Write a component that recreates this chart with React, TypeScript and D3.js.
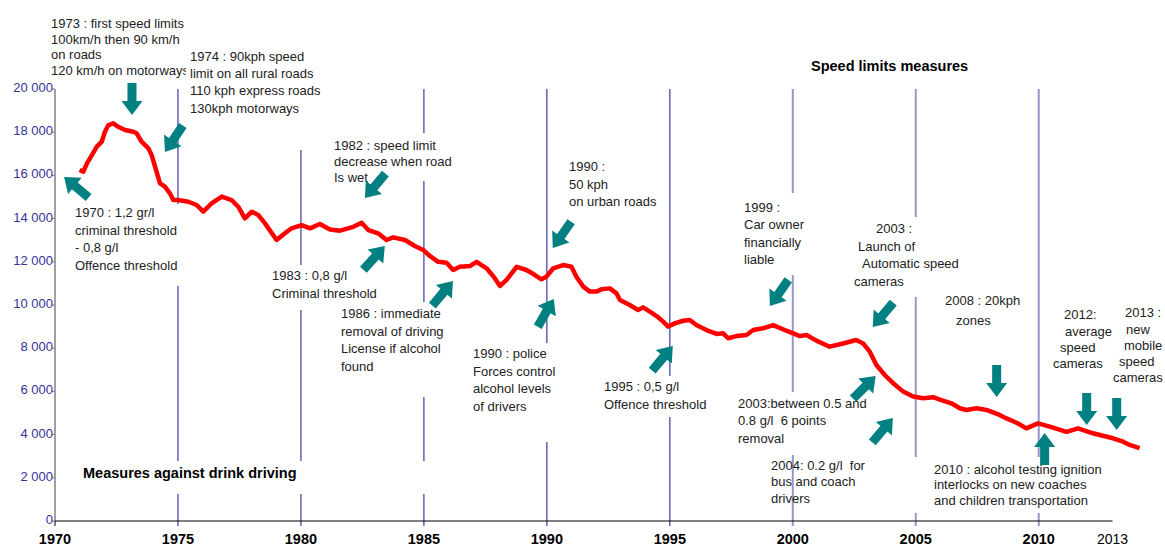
import React from 'react';
import * as d3 from 'd3';

// 12-month rolling road deaths
const years = [
  1971.0, 1971.15, 1971.3, 1971.5, 1971.7, 1971.9, 1972.03, 1972.17, 1972.37, 1972.57, 1972.85,
  1973.18, 1973.32, 1973.52, 1973.8, 1973.93, 1974.07, 1974.27, 1974.47, 1974.67, 1974.81,
  1975.0, 1975.42, 1975.76, 1976.03, 1976.37, 1976.78, 1977.18, 1977.45, 1977.72, 1978.0,
  1978.26, 1978.54, 1979.01, 1979.35, 1979.62, 1980.03, 1980.37, 1980.77, 1981.18, 1981.59,
  1982.13, 1982.47, 1982.74, 1983.14, 1983.48, 1983.75, 1984.23, 1984.63, 1984.97, 1985.24,
  1985.58, 1985.92, 1986.19, 1986.46, 1986.87, 1987.14, 1987.55, 1987.89, 1988.09, 1988.36,
  1988.77, 1989.17, 1989.5, 1989.78, 1989.98, 1990.26, 1990.66, 1991.0, 1991.2, 1991.48,
  1991.75, 1992.02, 1992.22, 1992.56, 1992.83, 1992.97, 1993.37, 1993.71, 1993.91, 1994.19,
  1994.46, 1994.73, 1994.93, 1995.2, 1995.54, 1995.81, 1996.08, 1996.49, 1996.9, 1997.17,
  1997.37, 1997.71, 1998.12, 1998.39, 1998.79, 1999.2, 1999.74, 2000.01, 2000.28, 2000.56,
  2000.96, 2001.5, 2002.04, 2002.58, 2002.86, 2003.13, 2003.4, 2003.74, 2004.08, 2004.49,
  2004.89, 2005.3, 2005.7, 2006.04, 2006.45, 2006.79, 2007.06, 2007.47, 2007.87, 2008.41,
  2008.69, 2009.1, 2009.5, 2009.97, 2010.45, 2011.13, 2011.6, 2012.2, 2013.02, 2013.43,
  2013.7, 2014.1,
];
const deaths = [
  16250, 16170, 16560, 16940, 17330, 17560, 18020, 18330, 18410, 18250, 18100,
  18020, 17950, 17560, 17250, 16940, 16400, 15630, 15480, 15170, 14860,
  14860, 14780, 14630, 14320, 14710, 15020, 14860, 14550, 14010, 14320,
  14170, 13780, 13010, 13320, 13550, 13700, 13550, 13750, 13500, 13440,
  13620, 13810, 13470, 13320, 13010, 13130, 13010, 12730, 12550, 12270,
  12000, 11960, 11620, 11770, 11800, 12000, 11700, 11230, 10880, 11160,
  11770, 11620, 11400, 11190, 11310, 11700, 11850, 11770, 11310, 10850,
  10620, 10620, 10730, 10770, 10540, 10230, 10000, 9770, 9890, 9690,
  9490, 9230, 9000, 9150, 9270, 9310, 9070, 8840, 8660, 8690,
  8460, 8560, 8610, 8840, 8920, 9070, 8810, 8690, 8560, 8610,
  8350, 8070, 8220, 8380, 8220, 7840, 7220, 6760, 6380, 5990,
  5760, 5680, 5730, 5600, 5450, 5220, 5140, 5220, 5140, 4910,
  4750, 4550, 4290, 4520, 4370, 4130, 4290, 4060, 3830, 3670,
  3520, 3370,
];

const yTicks = [0, 2000, 4000, 6000, 8000, 10000, 12000, 14000, 16000, 18000, 20000];
const xTicks = [1970, 1975, 1980, 1985, 1990, 1995, 2000, 2005, 2010];
const gridYears = [1975, 1980, 1985, 1990, 1995, 2000, 2005, 2010];

// arrow tips in data space, angle in degrees (0 = right, 90 = down)
const arrows = [
  { year: 1973.13, value: 18800, angle: 90 },
  { year: 1974.47, value: 17080, angle: 124 },
  { year: 1970.37, value: 15930, angle: 220 },
  { year: 1982.6, value: 14950, angle: 130 },
  { year: 1983.41, value: 12730, angle: -48 },
  { year: 1986.18, value: 11110, angle: -50 },
  { year: 1990.24, value: 12640, angle: 125 },
  { year: 1990.28, value: 10280, angle: -60 },
  { year: 1995.12, value: 8100, angle: -50 },
  { year: 1999.07, value: 9950, angle: 125 },
  { year: 2003.25, value: 8980, angle: 130 },
  { year: 2003.37, value: 6710, angle: -45 },
  { year: 2004.07, value: 4770, angle: -50 },
  { year: 2008.29, value: 5740, angle: 90 },
  { year: 2010.24, value: 4070, angle: -90 },
  { year: 2011.95, value: 4440, angle: 90 },
  { year: 2013.17, value: 4210, angle: 90 },
];

type Note = {
  lines: { t: string; x: number; y: number }[];
  box?: [number, number, number, number];
  bold?: boolean;
};

const notes: Note[] = [
  { lines: [
    { t: '1973 : first speed limits', x: 51, y: 28 },
    { t: '100km/h then 90 km/h', x: 51, y: 44 },
    { t: 'on roads', x: 51, y: 59 },
    { t: '120 km/h on motorways', x: 51, y: 75 },
  ] },
  { box: [186, 45, 140, 105], lines: [
    { t: '1974 : 90kph speed', x: 190, y: 61 },
    { t: 'limit on all rural roads', x: 190, y: 78 },
    { t: '110 kph express roads', x: 190, y: 95 },
    { t: '130kph motorways', x: 190, y: 113 },
  ] },
  { box: [72, 204, 112, 82], lines: [
    { t: '1970 : 1,2 gr/l', x: 75, y: 217 },
    { t: 'criminal threshold', x: 75, y: 235 },
    { t: '- 0,8 g/l', x: 75, y: 252 },
    { t: 'Offence threshold', x: 75, y: 270 },
  ] },
  { box: [331, 133, 125, 48], lines: [
    { t: '1982 : speed limit', x: 334, y: 150 },
    { t: 'decrease when road', x: 334, y: 166 },
    { t: 'Is wet', x: 334, y: 182 },
  ] },
  { box: [268, 265, 115, 45], lines: [
    { t: '1983 : 0,8 g/l', x: 272, y: 280 },
    { t: 'Criminal threshold', x: 272, y: 298 },
  ] },
  { box: [338, 302, 125, 95], lines: [
    { t: '1986 : immediate', x: 341, y: 318 },
    { t: 'removal of driving', x: 341, y: 336 },
    { t: 'License if alcohol', x: 341, y: 353 },
    { t: 'found', x: 341, y: 371 },
  ] },
  { lines: [
    { t: '1990 :', x: 569, y: 171 },
    { t: '50 kph', x: 569, y: 189 },
    { t: 'on urban roads', x: 569, y: 206 },
  ] },
  { box: [470, 343, 95, 99], lines: [
    { t: '1990 : police', x: 473, y: 358 },
    { t: 'Forces control', x: 473, y: 376 },
    { t: 'alcohol levels', x: 473, y: 393 },
    { t: 'of drivers', x: 473, y: 411 },
  ] },
  { box: [600, 376, 112, 41], lines: [
    { t: '1995 : 0,5 g/l', x: 604, y: 391 },
    { t: 'Offence threshold', x: 604, y: 409 },
  ] },
  { box: [740, 193, 70, 82], lines: [
    { t: '1999 :', x: 744, y: 212 },
    { t: 'Car owner', x: 744, y: 229 },
    { t: 'financially', x: 744, y: 247 },
    { t: 'liable', x: 744, y: 264 },
  ] },
  { box: [850, 217, 118, 80], lines: [
    { t: '2003 :', x: 876, y: 233 },
    { t: 'Launch of', x: 858, y: 251 },
    { t: 'Automatic speed', x: 862, y: 268 },
    { t: 'cameras', x: 854, y: 286 },
  ] },
  { box: [735, 392, 135, 63], lines: [
    { t: '2003:between 0.5 and', x: 738, y: 408 },
    { t: '0.8 g/l  6 points', x: 738, y: 425 },
    { t: 'removal', x: 738, y: 443 },
  ] },
  { lines: [
    { t: '2004: 0.2 g/l  for', x: 771, y: 470 },
    { t: 'bus and coach', x: 771, y: 486 },
    { t: 'drivers', x: 771, y: 503 },
  ] },
  { lines: [
    { t: '2008 : 20kph', x: 945, y: 305 },
    { t: 'zones', x: 956, y: 325 },
  ] },
  { box: [910, 457, 200, 56], lines: [
    { t: '2010 : alcohol testing ignition', x: 934, y: 474 },
    { t: 'interlocks on new coaches', x: 934, y: 489 },
    { t: 'and children transportation', x: 934, y: 505 },
  ] },
  { lines: [
    { t: '2012:', x: 1064, y: 319 },
    { t: 'average', x: 1065, y: 336 },
    { t: 'speed', x: 1060, y: 352 },
    { t: 'cameras', x: 1053, y: 368 },
  ] },
  { lines: [
    { t: '2013 :', x: 1125, y: 317 },
    { t: 'new', x: 1126, y: 334 },
    { t: 'mobile', x: 1124, y: 350 },
    { t: 'speed', x: 1119, y: 366 },
    { t: 'cameras', x: 1113, y: 382 },
  ] },
  { bold: true, lines: [{ t: 'Speed limits measures', x: 811, y: 71 }] },
  { bold: true, box: [78, 461, 352, 33], lines: [{ t: 'Measures against drink driving', x: 83, y: 478 }] },
];

const FONT = '"Liberation Sans", Arial, sans-serif';

const arrowPath = (len: number, hl: number, hw: number, sw: number) =>
  `M0,0 L${-hl},${-hw / 2} L${-hl},${-sw / 2} L${-len},${-sw / 2} L${-len},${sw / 2} L${-hl},${sw / 2} L${-hl},${hw / 2} Z`;

export default function App() {
  const width = 1165;
  const height = 547;
  const x = d3.scaleLinear().domain([1970, 2013]).range([55, 1112.5]);
  const y = d3.scaleLinear().domain([0, 20000]).range([521, 89]);

  const line = d3
    .line<number>()
    .x((_, i) => x(years[i]))
    .y((d) => y(d))
    .curve(d3.curveLinear);

  const yFmt = (v: number) => (v === 0 ? '0' : `${v / 1000} 000`);
  const arrowD = arrowPath(32, 14, 21, 9);

  return (
    <svg
      width={width}
      height={height}
      style={{ position: 'absolute', left: 0, top: 0, background: '#fff' }}
      fontFamily={FONT}
    >
      {/* vertical year lines */}
      {gridYears.map((g) => (
        <line
          key={g}
          x1={x(g)}
          x2={x(g)}
          y1={y(20000)}
          y2={526}
          stroke={g >= 2000 ? '#9696cc' : '#3a3aa8'}
          strokeWidth={g >= 2000 ? 2 : 1.2}
        />
      ))}

      {/* annotation text boxes */}
      {notes.map((n, i) => (
        <g key={i}>
          {n.box && <rect x={n.box[0]} y={n.box[1]} width={n.box[2]} height={n.box[3]} fill="#fff" />}
          {n.lines.map((l, j) => (
            <text
              key={j}
              x={l.x}
              y={l.y}
              fontSize={n.bold ? 14.5 : 13}
              fontWeight={n.bold ? 'bold' : 'normal'}
              fill={n.bold ? '#000' : '#222'}
              style={{ whiteSpace: 'pre' }}
            >
              {l.t}
            </text>
          ))}
        </g>
      ))}

      {/* axes */}
      <line x1={x(1970)} x2={x(1970)} y1={y(20000)} y2={y(0)} stroke="#808080" strokeWidth={1.5} />
      <line x1={x(1970)} x2={x(2013)} y1={y(0)} y2={y(0)} stroke="#000" strokeWidth={1.2} />
      {yTicks.map((t) => (
        <g key={t}>
          <line x1={x(1970) - 3} x2={x(1970)} y1={y(t)} y2={y(t)} stroke="#808080" />
          <text x={53} y={y(t) + 3} textAnchor="end" fontSize={13} fill="#333399">
            {yFmt(t)}
          </text>
        </g>
      ))}
      <line x1={x(1970)} x2={x(1970)} y1={y(0)} y2={y(0) + 5} stroke="#000" />
      {xTicks.map((t) => (
        <text key={t} x={x(t)} y={544} textAnchor="middle" fontSize={14.5} fontWeight="bold" fill="#000">
          {t}
        </text>
      ))}
      <text x={x(2013)} y={544} textAnchor="middle" fontSize={14} fill="#000">
        2013
      </text>

      {/* data */}
      <path d={line(deaths) || ''} fill="none" stroke="#ff0000" strokeWidth={4.5} strokeLinejoin="round" />

      {/* arrows */}
      {arrows.map((a, i) => (
        <path
          key={i}
          d={arrowD}
          fill="#008080"
          transform={`translate(${x(a.year)},${y(a.value)}) rotate(${a.angle})`}
        />
      ))}
    </svg>
  );
}
